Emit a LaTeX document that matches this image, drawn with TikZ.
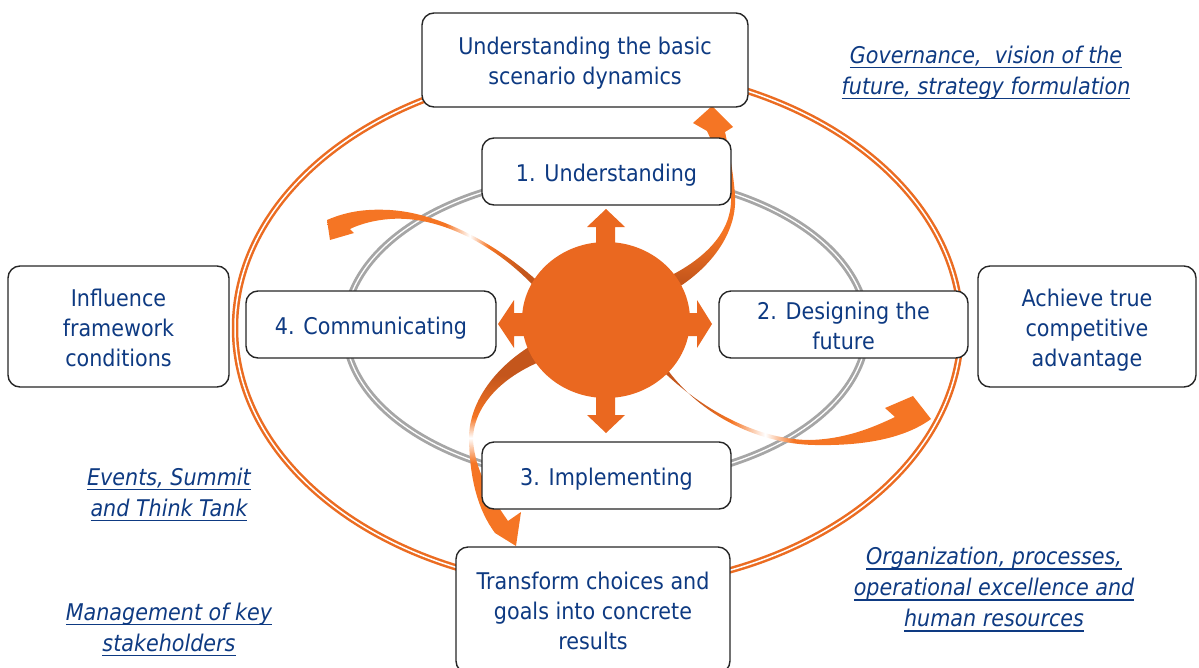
\documentclass[tikz,border=0pt]{standalone}
\usepackage{fontspec}
\setmainfont{DejaVu Sans}[FakeStretch=0.9]
\usetikzlibrary{shapes.geometric}

\definecolor{txtblue}{RGB}{14,58,130}
\definecolor{ringorange}{RGB}{235,108,34}
\definecolor{hubcol}{RGB}{234,104,32}
\definecolor{swirl}{RGB}{245,117,36}
\definecolor{swirldark}{RGB}{196,86,28}
\definecolor{ringgray}{RGB}{166,166,166}

% underline at a fixed distance below the baseline
\newcommand\ulline[1]{\setbox0\hbox{#1}\rlap{\rule[-5pt]{\wd0}{1.3pt}}\box0}
% one text line with a fixed height and depth
\newcommand\tline[1]{\rule[-2pt]{0pt}{23pt}\smash{#1}}

% colour runs along the swirls (bounding box maps to 25bp..75bp)
\pgfdeclarehorizontalshading{fadeleft}{100bp}{color(0bp)=(swirl); color(25bp)=(swirl);
  color(50bp)=(swirl); color(55bp)=(white); color(59bp)=(swirl); color(66bp)=(swirldark);
  color(75bp)=(swirldark); color(100bp)=(swirldark)}
\pgfdeclarehorizontalshading{faderight}{100bp}{color(0bp)=(swirldark); color(25bp)=(swirldark);
  color(33bp)=(swirldark); color(40bp)=(swirl); color(46bp)=(white); color(51bp)=(swirl);
  color(75bp)=(swirl); color(100bp)=(swirl)}
\pgfdeclareverticalshading{fadedown}{100bp}{color(0bp)=(swirl); color(25bp)=(swirl);
  color(45bp)=(swirl); color(51bp)=(white); color(56bp)=(swirl); color(66bp)=(swirldark);
  color(75bp)=(swirldark); color(100bp)=(swirldark)}
\pgfdeclareverticalshading{fadeup}{100bp}{color(0bp)=(swirldark); color(25bp)=(swirldark);
  color(30bp)=(swirldark); color(42bp)=(swirl); color(75bp)=(swirl); color(100bp)=(swirl)}

\tikzset{
  box/.style={draw=black!85, line width=1.4pt, rounded corners=12pt, fill=white,
    text=txtblue, align=center, inner sep=0pt, font=\fontsize{23}{30}\selectfont},
  note/.style={text=txtblue, align=center, inner sep=0pt,
    font=\fontsize{23}{31}\selectfont\itshape},
}

\begin{document}
\begin{tikzpicture}[x=1pt,y=-1pt]
\useasboundingbox (0,0) rectangle (1199,667);
\clip (0,0) rectangle (1199,667);

% inner grey double ring
\draw[ringgray, line width=7pt] (606,328) ellipse [x radius=261pt, y radius=154pt];
\draw[white, line width=1.3pt] (606,328) ellipse [x radius=261pt, y radius=154pt];

% outer orange double ring
\draw[ringorange, line width=6.5pt] (598,328) ellipse [x radius=363pt, y radius=260pt];
\draw[white, line width=1.5pt] (598,328) ellipse [x radius=363pt, y radius=260pt];

% swirl towards the top box
\shade[shading=fadeup] (655,300) .. controls (700,280) and (738,240) .. (735,195)
  .. controls (733,170) and (729,150) .. (725,132)
  -- (733,127) -- (712,106) -- (693,123) -- (707,131)
  .. controls (718,155) and (729,175) .. (731,198)
  .. controls (732,235) and (700,265) .. (650,285) -- cycle;
% swirl towards the left
\shade[shading=fadeleft] (560,302) -- (545,288)
  .. controls (500,245) and (440,213) .. (390,210)
  .. controls (370,209) and (350,210) .. (327,220)
  -- (330,240) -- (354,233) -- (350,229)
  .. controls (360,224) and (375,220) .. (390,219)
  .. controls (443,215) and (503,250) .. (540,293)
  -- (565,314) -- cycle;
% swirl towards the bottom box
\shade[shading=fadedown] (545,338) .. controls (500,360) and (468,400) .. (469,440)
  .. controls (470,480) and (478,510) .. (495,533)
  -- (516,546) -- (521,512) -- (508,521)
  .. controls (490,495) and (475,470) .. (473,440)
  .. controls (473,408) and (500,375) .. (552,357) -- cycle;
% swirl towards the right
\shade[shading=faderight] (645,352) .. controls (690,405) and (755,440) .. (810,440)
  .. controls (845,439) and (872,428) .. (895,417)
  -- (885,408) -- (913,396) -- (931,419)
  .. controls (905,438) and (865,446) .. (815,445)
  .. controls (755,444) and (695,412) .. (662,362) -- cycle;

% four-way arrow behind the hub
\fill[hubcol] (596,227) -- (587,227) -- (606,209) -- (625,227) -- (615,227)
  -- (615,313) -- (697,313) -- (697,300) -- (712,324) -- (697,348) -- (697,336)
  -- (615,336) -- (615,415) -- (625,415) -- (606,433) -- (587,415) -- (596,415)
  -- (596,336) -- (514,336) -- (514,348) -- (498,324) -- (514,300) -- (514,313)
  -- (596,313) -- cycle;
\node[ellipse, fill=hubcol, inner sep=0pt, minimum width=168pt, minimum height=156pt] (hub) at (606,320) {};

% boxes
\node[box, minimum width=326pt, minimum height=94pt] (basic) at (585,60)
  {\tline{Understanding the basic}\\\tline{scenario dynamics}};
\node[box, minimum width=249pt, minimum height=67pt] (s1) at (606.5,171.5)
  {\tline{1. Understanding}};
\node[box, minimum width=249pt, minimum height=67pt] (s2) at (843.5,324.5)
  {\tline{2. Designing the}\\\tline{future}};
\node[box, minimum width=249pt, minimum height=67pt] (s3) at (606.5,475.5)
  {\tline{3. Implementing}};
\node[box, minimum width=250pt, minimum height=67pt] (s4) at (371,324.5)
  {\tline{4. Communicating}};
\node[box, minimum width=221pt, minimum height=121pt] (influence) at (118.5,326.5)
  {\tline{Influence}\\\tline{framework}\\\tline{conditions}};
\node[box, minimum width=218pt, minimum height=121pt] (advantage) at (1087,326.5)
  {\tline{Achieve true}\\\tline{competitive}\\\tline{advantage}};
\node[box, minimum width=274pt, minimum height=126pt] (results) at (593,610)
  {\tline{Transform choices and}\\\tline{goals into concrete}\\\tline{results}};

% linked notes
\node[note] (governance) at (986,69)
  {\tline{\ulline{Governance, \ vision of the}}\\\tline{\ulline{future, strategy formulation}}};
\node[note] (events) at (169,491)
  {\tline{\ulline{Events, Summit}}\\\tline{\ulline{and Think Tank}}};
\node[note] (stakeholders) at (169,626)
  {\tline{\ulline{Management of key}}\\\tline{\ulline{stakeholders}}};
\node[note] (organization) at (994,586)
  {\tline{\ulline{Organization, processes,}}\\\tline{\ulline{operational excellence and}}\\\tline{\ulline{human resources}}};
\end{tikzpicture}
\end{document}
